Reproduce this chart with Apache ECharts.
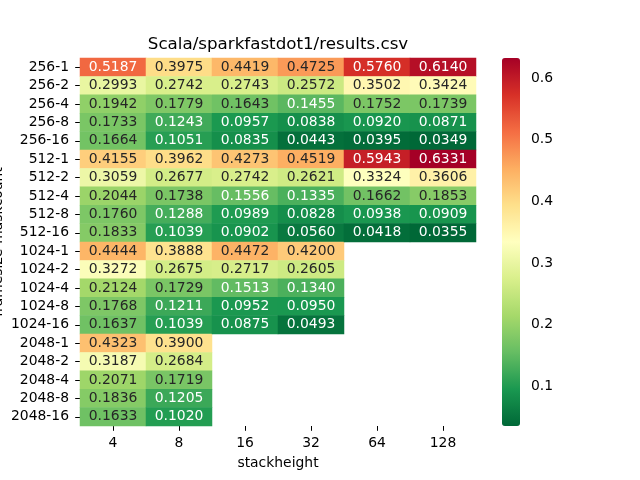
<!DOCTYPE html>
<html lang="">

<head>
  <meta charset="utf-8">
  <title>Chart</title>
  <script src="https://cdn.jsdelivr.net/npm/echarts@6/dist/echarts.min.js"></script>
</head>

<body style="margin:0">
<div id="main" style="width: 640px;height:480px;"></div>
<script type="text/javascript">
    // stackheight columns and framesize-maskcount rows
    var stackheights = ['4', '8', '16', '32', '64', '128'];
    var frames = ['256-1', '256-2', '256-4', '256-8', '256-16',
        '512-1', '512-2', '512-4', '512-8', '512-16',
        '1024-1', '1024-2', '1024-4', '1024-8', '1024-16',
        '2048-1', '2048-2', '2048-4', '2048-8', '2048-16'];

    // one array per stackheight column, top row first (null = no result)
    var h4 = [0.5187, 0.2993, 0.1942, 0.1733, 0.1664, 0.4155, 0.3059, 0.2044, 0.1760, 0.1833,
        0.4444, 0.3272, 0.2124, 0.1768, 0.1637, 0.4323, 0.3187, 0.2071, 0.1836, 0.1633];
    var h8 = [0.3975, 0.2742, 0.1779, 0.1243, 0.1051, 0.3962, 0.2677, 0.1738, 0.1288, 0.1039,
        0.3888, 0.2675, 0.1729, 0.1211, 0.1039, 0.3900, 0.2684, 0.1719, 0.1205, 0.1020];
    var h16 = [0.4419, 0.2743, 0.1643, 0.0957, 0.0835, 0.4273, 0.2742, 0.1556, 0.0989, 0.0902,
        0.4472, 0.2717, 0.1513, 0.0952, 0.0875, null, null, null, null, null];
    var h32 = [0.4725, 0.2572, 0.1455, 0.0838, 0.0443, 0.4519, 0.2621, 0.1335, 0.0828, 0.0560,
        0.4200, 0.2605, 0.1340, 0.0950, 0.0493, null, null, null, null, null];
    var h64 = [0.5760, 0.3502, 0.1752, 0.0920, 0.0395, 0.5943, 0.3324, 0.1662, 0.0938, 0.0418,
        null, null, null, null, null, null, null, null, null, null];
    var h128 = [0.6140, 0.3424, 0.1739, 0.0871, 0.0349, 0.6331, 0.3606, 0.1853, 0.0909, 0.0355,
        null, null, null, null, null, null, null, null, null, null];

    var columns = [h4, h8, h16, h32, h64, h128];
    var cbarTicks = [0.1, 0.2, 0.3, 0.4, 0.5, 0.6];

    // RdYlGn reversed (green = low)
    var cmap = ['#006837', '#1a9850', '#66bd63', '#a6d96a', '#d9ef8b', '#ffffbf',
        '#fee08b', '#fdae61', '#f46d43', '#d73027', '#a50026'];

    var all = [];
    columns.forEach(function (c) {
        c.forEach(function (v) { if (v !== null) all.push(v); });
    });
    var vmin = Math.min.apply(null, all);
    var vmax = Math.max.apply(null, all);

    function hex2rgb(h) {
        return [parseInt(h.substr(1, 2), 16), parseInt(h.substr(3, 2), 16), parseInt(h.substr(5, 2), 16)];
    }

    // pick white or dark text like seaborn does, from the cell colour luminance
    function textColor(v) {
        var t = (v - vmin) / (vmax - vmin) * (cmap.length - 1);
        var i = Math.min(Math.floor(t), cmap.length - 2);
        var f = t - i;
        var a = hex2rgb(cmap[i]), b = hex2rgb(cmap[i + 1]);
        var lin = [0, 1, 2].map(function (k) {
            var c = (a[k] + (b[k] - a[k]) * f) / 255;
            return c <= 0.03928 ? c / 12.92 : Math.pow((c + 0.055) / 1.055, 2.4);
        });
        var lum = 0.2126 * lin[0] + 0.7152 * lin[1] + 0.0722 * lin[2];
        return lum > 0.408 ? '#262626' : '#ffffff';
    }

    var cells = [];
    for (var x = 0; x < columns.length; x++) {
        for (var y = 0; y < frames.length; y++) {
            var v = columns[x][y];
            if (v === null) continue;
            cells.push({value: [x, y, v], label: {color: textColor(v)}});
        }
    }

    var myChart = echarts.init(document.getElementById('main'));
    var font = 'DejaVu Sans';
    var hiddenLine = {show: true, lineStyle: {color: 'rgba(0,0,0,0)'}};
    var tick = {show: true, alignWithLabel: true, inside: false, length: 4.8, lineStyle: {color: '#000', width: 1}};

    var option = {
        animation: false,
        textStyle: {fontFamily: font},
        title: {
            text: 'Scala/sparkfastdot1/results.csv',
            left: 273,
            textAlign: 'center',
            top: 31,
            textStyle: {fontFamily: font, fontSize: 16.7, fontWeight: 'normal', color: '#000'}
        },
        grid: [
            {left: 80, right: 164, top: 58, bottom: 54, outerBoundsMode: 'none', containLabel: false},
            {left: 502, width: 18, top: 58, height: 368, outerBoundsMode: 'none', containLabel: false}
        ],
        xAxis: [{
            type: 'category',
            data: stackheights,
            name: 'stackheight',
            nameLocation: 'middle',
            nameGap: 30,
            nameMoveOverlap: false,
            nameTextStyle: {fontFamily: font, fontSize: 13.9, color: '#000'},
            axisLine: hiddenLine,
            axisTick: tick,
            axisLabel: {margin: 10, fontFamily: font, fontSize: 13.9, color: '#000'},
            splitLine: {show: false},
            splitArea: {show: false}
        }, {
            gridIndex: 1,
            type: 'value',
            show: false
        }],
        yAxis: [{
            type: 'category',
            data: frames,
            inverse: true,
            name: 'framesize-maskcount',
            nameLocation: 'middle',
            nameGap: 75,
            nameRotate: 90,
            nameMoveOverlap: false,
            nameTextStyle: {fontFamily: font, fontSize: 13.9, color: '#000'},
            axisLine: hiddenLine,
            axisTick: tick,
            axisLabel: {margin: 11, fontFamily: font, fontSize: 13.9, color: '#000'},
            splitLine: {show: false},
            splitArea: {show: false}
        }, {
            gridIndex: 1,
            type: 'value',
            position: 'right',
            min: vmin,
            max: vmax,
            splitLine: {show: false},
            axisLine: hiddenLine,
            axisTick: {show: true, inside: false, length: 4.8, customValues: cbarTicks, lineStyle: {color: '#000', width: 1}},
            axisLabel: {
                margin: 11, fontFamily: font, fontSize: 13.9, color: '#000',
                customValues: cbarTicks,
                formatter: function (v) { return v.toFixed(1); }
            }
        }],
        visualMap: {
            type: 'continuous',
            seriesIndex: 0,
            min: vmin,
            max: vmax,
            calculable: false,
            text: null,
            showLabel: false,
            itemWidth: 18,
            itemHeight: 368,
            left: 487,
            top: 43,
            inRange: {color: cmap}
        },
        series: [{
            type: 'heatmap',
            data: cells,
            z: 1,
            label: {
                show: true,
                fontFamily: font,
                fontSize: 13.9,
                formatter: function (p) { return p.value[2].toFixed(4); }
            },
            emphasis: {disabled: true}
        }]
    };

    myChart.setOption(option);
</script>

</body>
</html>
